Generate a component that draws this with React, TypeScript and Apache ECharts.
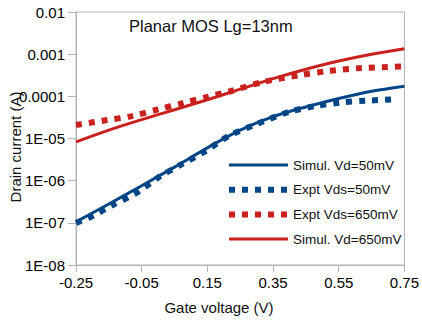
import React, { useEffect, useRef } from "react";
import * as echarts from "echarts";

// Gate voltage (V) sample points for each curve
const simVg = [-0.25, -0.15, -0.05, 0.05, 0.15, 0.25, 0.35, 0.45, 0.55, 0.65, 0.75];
const exptVg50 = [-0.25, -0.2, -0.14, -0.065, 0.005, 0.074, 0.147, 0.217, 0.3, 0.4, 0.48, 0.555, 0.636, 0.73];
const exptVg650 = [-0.25, -0.16, -0.08, 0.0, 0.075, 0.153, 0.22, 0.32, 0.43, 0.52, 0.62, 0.75];

// Drain current (A)
const simId50 = [1.05e-7, 2.8e-7, 7.6e-7, 2.1e-6, 6.0e-6, 1.58e-5, 3.3e-5, 5.6e-5, 8.9e-5, 1.32e-4, 1.74e-4];
const simId650 = [8.3e-6, 1.58e-5, 2.8e-5, 4.8e-5, 8.3e-5, 1.48e-4, 2.63e-4, 4.4e-4, 6.9e-4, 1.0e-3, 1.35e-3];
const exptId50 = [1.0e-7, 1.45e-7, 2.6e-7, 5.2e-7, 1.26e-6, 2.5e-6, 5.2e-6, 1.17e-5, 2.2e-5, 4.3e-5, 5.9e-5, 7.1e-5, 7.9e-5, 8.5e-5];
const exptId650 = [2.1e-5, 2.7e-5, 3.4e-5, 4.9e-5, 6.9e-5, 9.8e-5, 1.32e-4, 2.2e-4, 3.16e-4, 4.0e-4, 4.7e-4, 5.1e-4];

const seriesNames = ["Simul. Vd=50mV", "Expt Vds=50mV", "Expt Vds=650mV", "Simul. Vd=650mV"];

const BLUE = "#004586";
const RED = "#c9211e";
const AXIS = "#b3b3b3";
const FONT = "Liberation Sans";

const pairs = (xs: number[], ys: number[]) => xs.map((x, i) => [x, ys[i]]);

function yLabel(v: number): string {
  const e = Math.round(Math.log10(v));
  if (e >= -4) return v.toFixed(-e);
  return "1E-" + String(-e).padStart(2, "0");
}

export default function App() {
  const ref = useRef<HTMLDivElement>(null);

  useEffect(() => {
    if (!ref.current) return;
    const chart = echarts.init(ref.current, undefined, { renderer: "svg" });
    const dotted = { width: 6, type: [6, 7] as number[], cap: "butt" as const };
    const solid = { width: 3, type: "solid" as const };
    chart.setOption({
      animation: false,
      textStyle: { fontFamily: FONT },
      grid: {
        left: 76,
        right: 16,
        top: 12,
        bottom: 56,
        show: true,
        borderColor: AXIS,
        borderWidth: 1,
      },
      xAxis: {
        type: "value",
        min: -0.25,
        max: 0.75,
        interval: 0.2,
        axisLine: { show: true, onZero: false, lineStyle: { color: AXIS } },
        axisTick: { show: true, length: 7, lineStyle: { color: AXIS } },
        splitLine: { show: false },
        axisLabel: {
          color: "#000",
          fontSize: 15,
          fontFamily: FONT,
          margin: 10,
          formatter: (v: number) => v.toFixed(2),
        },
      },
      yAxis: {
        type: "log",
        logBase: 10,
        min: 1e-8,
        max: 0.01,
        axisLine: { show: true, onZero: false, lineStyle: { color: AXIS } },
        axisTick: { show: true, length: 8, lineStyle: { color: AXIS } },
        splitLine: { show: false },
        minorTick: { show: false },
        axisLabel: {
          color: "#000",
          fontSize: 15,
          fontFamily: FONT,
          margin: 11,
          formatter: (v: number) => yLabel(v),
        },
      },
      legend: {
        orient: "vertical",
        left: 226,
        top: 158,
        padding: 0,
        itemWidth: 59,
        itemHeight: 14,
        itemGap: 10.7,
        itemStyle: { opacity: 0, borderWidth: 0 },
        data: [
          { name: seriesNames[0], lineStyle: { color: BLUE, ...solid } },
          { name: seriesNames[1], lineStyle: { color: BLUE, ...dotted } },
          { name: seriesNames[2], lineStyle: { color: RED, ...dotted } },
          { name: seriesNames[3], lineStyle: { color: RED, ...solid } },
        ],
        textStyle: { color: "#111", fontSize: 13.5, fontFamily: FONT },
      },
      graphic: [
        {
          type: "text",
          x: 129,
          y: 26,
          style: {
            text: "Planar MOS Lg=13nm",
            fontSize: 16.5,
            fontFamily: FONT,
            fill: "#111",
            verticalAlign: "middle",
          },
        },
        {
          type: "text",
          x: 15,
          y: 147,
          rotation: Math.PI / 2,
          style: {
            text: "Drain current (A)",
            fontSize: 15,
            fontFamily: FONT,
            fill: "#111",
            align: "center",
            verticalAlign: "middle",
          },
        },
        {
          type: "text",
          x: 219,
          y: 307,
          style: {
            text: "Gate voltage (V)",
            fontSize: 15,
            fontFamily: FONT,
            fill: "#111",
            align: "center",
            verticalAlign: "middle",
          },
        },
      ],
      series: [
        {
          name: seriesNames[0],
          type: "line",
          smooth: 0.3,
          showSymbol: false,
          symbol: "none",
          data: pairs(simVg, simId50),
          lineStyle: { color: BLUE, ...solid },
          itemStyle: { color: BLUE },
          z: 3,
        },
        {
          name: seriesNames[1],
          type: "line",
          smooth: 0.3,
          showSymbol: false,
          symbol: "none",
          data: pairs(exptVg50, exptId50),
          lineStyle: { color: BLUE, ...dotted },
          itemStyle: { color: BLUE },
          z: 2,
        },
        {
          name: seriesNames[2],
          type: "line",
          smooth: 0.3,
          showSymbol: false,
          symbol: "none",
          data: pairs(exptVg650, exptId650),
          lineStyle: { color: RED, ...dotted },
          itemStyle: { color: RED },
          z: 2,
        },
        {
          name: seriesNames[3],
          type: "line",
          smooth: 0.3,
          showSymbol: false,
          symbol: "none",
          data: pairs(simVg, simId650),
          lineStyle: { color: RED, ...solid },
          itemStyle: { color: RED },
          z: 3,
        },
      ],
    });
    return () => chart.dispose();
  }, []);

  return <div ref={ref} style={{ width: 422, height: 321, position: "absolute", left: 0, top: 0 }} />;
}
